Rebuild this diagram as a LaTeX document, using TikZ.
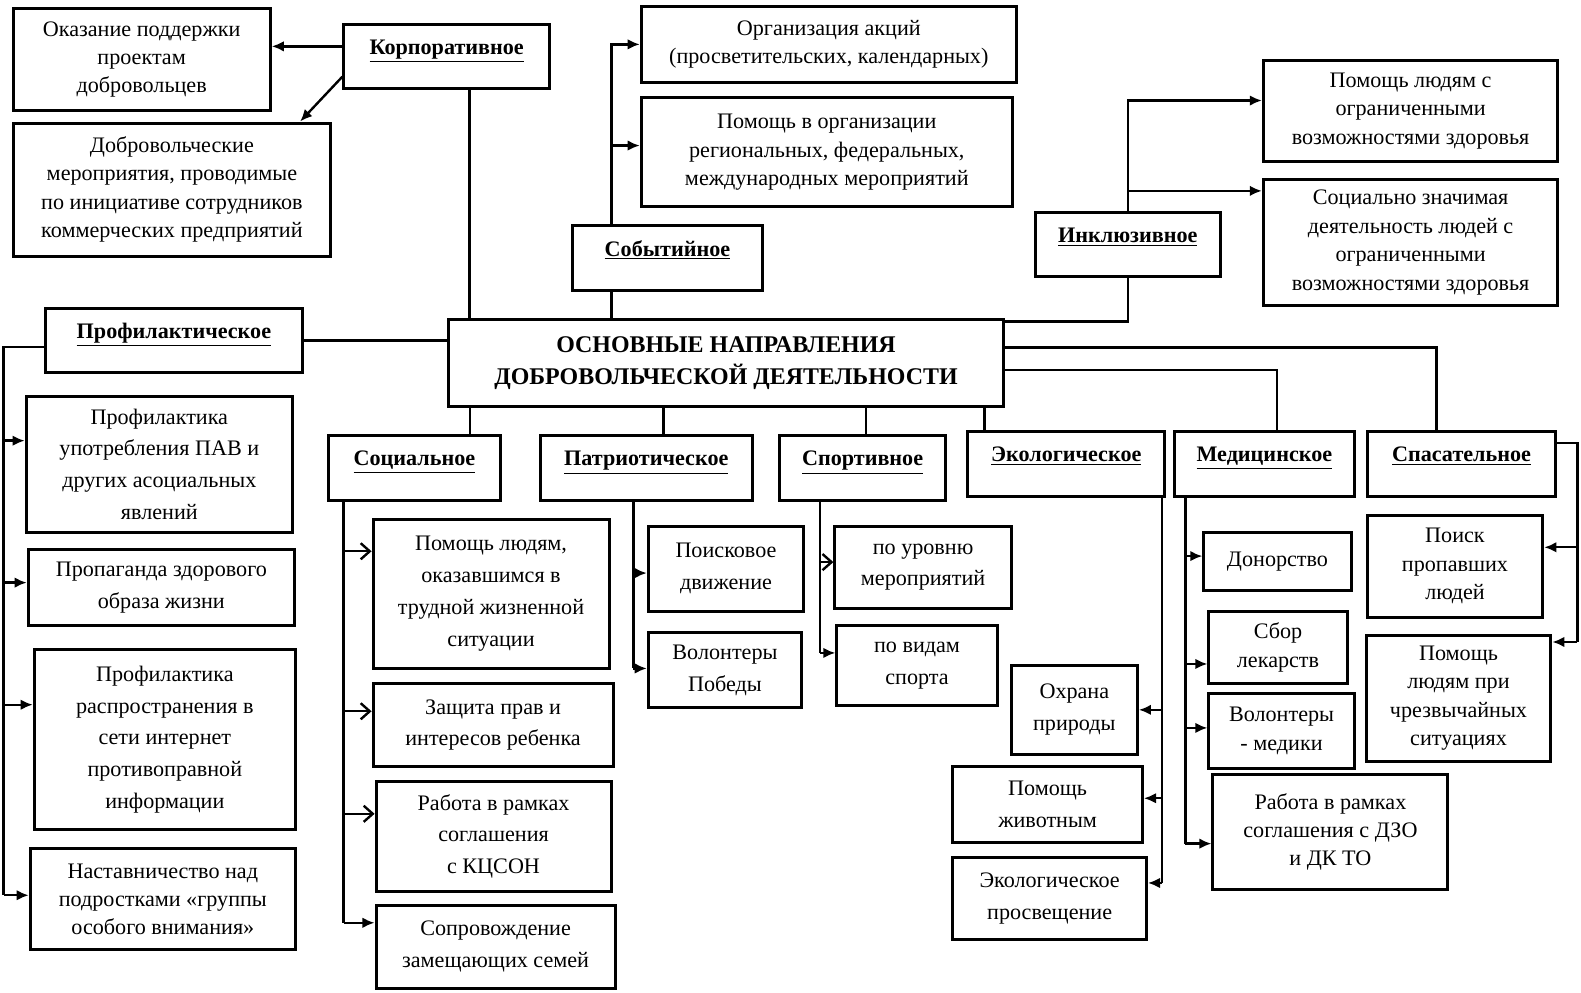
\documentclass[tikz,border=0pt]{standalone}
\usepackage{fontspec}
\setmainfont{Liberation Serif}
\usetikzlibrary{arrows.meta,calc,positioning}
\tikzset{
  box/.style={rectangle,draw=black,line width=1.7pt,align=center,inner sep=1pt,font=\fontsize{12.5}{16}\selectfont},
  boxl/.style={box,font=\fontsize{12.5}{18}\selectfont},
  hd/.style={rectangle,draw=black,line width=1.7pt,inner xsep=2pt,inner ysep=1mm,text height=5mm,text depth=5.8mm,font=\fontsize{12.5}{15}\selectfont\bfseries},
  ttl/.style={rectangle,draw=black,line width=1.9pt,align=center,font=\fontsize{13.5}{18}\selectfont\bfseries},
  ln/.style={draw=black,line width=1.35pt},
  arr/.style={ln,-{Latex[length=2.4mm,width=2.1mm]}},
  arro/.style={ln,-{Straight Barb[length=1.8mm,width=3.2mm]}},
}
\begin{document}
\begin{tikzpicture}[x=0.2mm,y=-0.2mm]
\useasboundingbox (0,0) rectangle (1568,984);

% centre and upper row
\node[ttl,minimum width=110mm,minimum height=17.2mm] (main) at (720,360)
  {ОСНОВНЫЕ НАПРАВЛЕНИЯ\\ДОБРОВОЛЬЧЕСКОЙ ДЕЯТЕЛЬНОСТИ};
\node[hd,minimum width=40.8mm] (korp) at (443,56) {\underline{Корпоративное}};
\node[box,minimum width=51mm,minimum height=20.4mm] (okaz) at (140.5,59)
  {Оказание поддержки\\проектам\\добровольцев};
\node[box,minimum width=63mm,minimum height=26.4mm] (dobr) at (170.5,188)
  {Добровольческие\\мероприятия, проводимые\\по инициативе сотрудников\\коммерческих предприятий};
\node[hd,minimum width=37.6mm] (sobyt) at (662,256) {\underline{Событийное}};
\node[box,minimum width=74.4mm,minimum height=15.2mm] (akc) at (822,44)
  {Организация акций\\(просветительских, календарных)};
\node[box,minimum width=73.6mm,minimum height=21.6mm] (pomorg) at (820,151)
  {Помощь в организации\\региональных, федеральных,\\международных мероприятий};
\node[hd,minimum width=36.6mm] (inkl) at (1118.5,242.5) {\underline{Инклюзивное}};
\node[box,minimum width=58.4mm,minimum height=20mm] (ovz) at (1399,110)
  {Помощь людям с\\ограниченными\\возможностями здоровья};
\node[box,minimum width=58.4mm,minimum height=25mm] (szn) at (1399,240.5)
  {Социально значимая\\деятельность людей с\\ограниченными\\возможностями здоровья};

% left column
\node[hd,minimum width=51mm] (prof) at (172.5,337.5) {\underline{Профилактическое}};
\node[boxl,minimum width=52.8mm,minimum height=27mm] (pav) at (158,460.5)
  {Профилактика\\употребления ПАВ и\\других асоциальных\\явлений};
\node[boxl,minimum width=52.8mm,minimum height=15mm] (prop) at (160,582.5)
  {Пропаганда здорового\\образа жизни};
\node[boxl,minimum width=51.8mm,minimum height=35.8mm] (inet) at (163.5,733.5)
  {Профилактика\\распространения в\\сети интернет\\противоправной\\информации};
\node[box,minimum width=52.6mm,minimum height=20mm] (nast) at (161.5,892)
  {Наставничество над\\подростками «группы\\особого внимания»};

% lower row of headings
\node[hd,minimum width=34mm] (soc) at (411,464) {\underline{Социальное}};
\node[hd,minimum width=42mm] (patr) at (641,464) {\underline{Патриотическое}};
\node[hd,minimum width=33mm] (sport) at (855.5,464) {\underline{Спортивное}};
\node[hd,minimum width=39mm] (ekol) at (1057.5,460) {\underline{Экологическое}};
\node[hd,minimum width=35.6mm] (med) at (1254,460) {\underline{Медицинское}};
\node[hd,minimum width=37.4mm] (spas) at (1449.5,460) {\underline{Спасательное}};

% their boxes
\node[boxl,minimum width=46.8mm,minimum height=29.6mm] (trud) at (487,589)
  {Помощь людям,\\оказавшимся в\\трудной жизненной\\ситуации};
\node[boxl,minimum width=47.6mm,minimum height=16.4mm] (zash) at (489,719)
  {Защита прав и\\интересов ребенка};
\node[boxl,minimum width=46.6mm,minimum height=21.8mm] (kcson) at (489.5,829.5)
  {Работа в рамках\\соглашения\\с КЦСОН};
\node[boxl,minimum width=47.4mm,minimum height=16.4mm] (sopr) at (491.5,939)
  {Сопровождение\\замещающих семей};
\node[boxl,minimum width=30.8mm,minimum height=16.8mm] (poisk) at (720,564)
  {Поисковое\\движение};
\node[boxl,minimum width=30.4mm,minimum height=15mm] (volpob) at (719,664.5)
  {Волонтеры\\Победы};
\node[boxl,minimum width=35mm,minimum height=16.2mm] (urov) at (915.5,562.5)
  {по уровню\\мероприятий};
\node[boxl,minimum width=31.8mm,minimum height=16mm] (vidam) at (909.5,660)
  {по видам\\спорта};
\node[boxl,minimum width=25mm,minimum height=17.6mm] (ohr) at (1065.5,704)
  {Охрана\\природы};
\node[boxl,minimum width=37.6mm,minimum height=15.2mm] (zhiv) at (1039,798)
  {Помощь\\животным};
\node[boxl,minimum width=38.4mm,minimum height=16.4mm] (eprosv) at (1041,891)
  {Экологическое\\просвещение};
\node[box,minimum width=29.2mm,minimum height=11.6mm] (donor) at (1267,557) {Донорство};
\node[box,minimum width=27.4mm,minimum height=14.4mm] (sbor) at (1267.5,642)
  {Сбор\\лекарств};
\node[box,minimum width=28.8mm,minimum height=14.8mm] (volmed) at (1271,725)
  {Волонтеры\\- медики};
\node[box,minimum width=46.6mm,minimum height=22.8mm] (dzo) at (1319.5,825)
  {Работа в рамках\\соглашения с ДЗО\\и ДК ТО};
\node[box,minimum width=34.8mm,minimum height=20.2mm] (poiskpr) at (1443,561.5)
  {Поиск\\пропавших\\людей};
\node[box,minimum width=36.6mm,minimum height=25mm] (chs) at (1446.5,692.5)
  {Помощь\\людям при\\чрезвычайных\\ситуациях};

% корпоративное
\coordinate (k1) at ($(korp.north west)!.35!(korp.south west)$);
\coordinate (k3) at ($(korp.south west)!.61!(korp.south east)$);
\draw[arr] (k1) -- (k1 -| okaz.east);
\draw[arr] ($(korp.north west)!.8!(korp.south west)$) -- ($(dobr.north west)!.9!(dobr.north east)$);
\draw[ln] (k3) -- (k3 |- main.north);

% событийное
\coordinate (s1) at ($(sobyt.north west)!.21!(sobyt.north east)$);
\coordinate (s2) at ($(pomorg.north west)!.44!(pomorg.south west)$);
\draw[arr] (s1) |- (akc.west);
\draw[arr] (s1 |- s2) -- (s2);
\draw[ln] (s1 |- sobyt.south) -- (s1 |- main.north);

% инклюзивное
\coordinate (i1) at ($(ovz.north west)!.4!(ovz.south west)$);
\coordinate (i2) at ($(szn.north west)!.1!(szn.south west)$);
\draw[arr] (inkl.north) |- (i1);
\draw[arr] (inkl.north |- i2) -- (i2);
\draw[ln] (inkl.south) |- ($(main.north east)!.04!(main.south east)$);

% from the centre to the right
\draw[ln] ($(main.north east)!.33!(main.south east)$) -| ($(spas.north west)!.37!(spas.north east)$);
\draw[ln] ($(main.north east)!.58!(main.south east)$) -| ($(med.north west)!.57!(med.north east)$);

% профилактическое
\coordinate (p0) at ($(prof.north west)!.6!(prof.south west)$);
\coordinate (pl) at ($(p0)+(-40,0)$);
\coordinate (p1) at ($(pav.north west)!.33!(pav.south west)$);
\coordinate (p2) at ($(prop.north west)!.44!(prop.south west)$);
\coordinate (p3) at ($(inet.north west)!.31!(inet.south west)$);
\coordinate (p4) at ($(nast.north west)!.46!(nast.south west)$);
\draw[ln] (prof.east) -- (prof.east -| main.west);
\draw[ln] (p0) -- (pl) -- (pl |- p4);
\draw[arr] (pl |- p1) -- (p1);
\draw[arr] (pl |- p2) -- (p2);
\draw[arr] (pl |- p3) -- (p3);
\draw[arr] (pl |- p4) -- (p4);

% from the centre down
\coordinate (c1) at ($(soc.north west)!.82!(soc.north east)$);
\coordinate (c2) at ($(patr.north west)!.58!(patr.north east)$);
\coordinate (c3) at ($(sport.north west)!.52!(sport.north east)$);
\coordinate (c4) at ($(ekol.north west)!.09!(ekol.north east)$);
\draw[ln] (c1) -- (c1 |- main.south);
\draw[ln] (c2) -- (c2 |- main.south);
\draw[ln] (c3) -- (c3 |- main.south);
\draw[ln] (c4) -- (c4 |- main.south);

% социальное
\coordinate (sc) at ($(soc.south west)!.094!(soc.south east)$);
\coordinate (t1) at ($(trud.north west)!.22!(trud.south west)$);
\coordinate (t2) at ($(zash.north west)!.34!(zash.south west)$);
\coordinate (t3) at ($(kcson.north west)!.30!(kcson.south west)$);
\coordinate (t4) at ($(sopr.north west)!.22!(sopr.south west)$);
\draw[ln] (sc) -- (sc |- t4);
\draw[arro] (sc |- t1) -- (t1);
\draw[arro] (sc |- t2) -- (t2);
\draw[arro] (sc |- t3) -- (t3);
\draw[arr] (sc |- t4) -- (t4);

% патриотическое
\coordinate (pc) at ($(patr.south west)!.44!(patr.south east)$);
\coordinate (r1) at ($(poisk.north west)!.55!(poisk.south west)$);
\coordinate (r2) at ($(volpob.north west)!.48!(volpob.south west)$);
\draw[ln] (pc) -- (pc |- r2);
\draw[arr] (pc |- r1) -- (r1);
\draw[arr] (pc |- r2) -- (r2);

% спортивное
\coordinate (spc) at ($(sport.south west)!.25!(sport.south east)$);
\coordinate (u1) at ($(urov.north west)!.44!(urov.south west)$);
\coordinate (u2) at ($(vidam.north west)!.35!(vidam.south west)$);
\draw[ln] (spc) -- (spc |- u2);
\draw[arro] (spc |- u1) -- (u1);
\draw[arr] (spc |- u2) -- (u2);

% экологическое
\coordinate (ec) at ($(ekol.south west)!.98!(ekol.south east)$);
\coordinate (e2) at ($(zhiv.north east)!.42!(zhiv.south east)$);
\coordinate (e3) at ($(eprosv.north east)!.32!(eprosv.south east)$);
\draw[ln] (ec) -- (ec |- e3);
\draw[arr] (ec |- ohr.east) -- (ohr.east);
\draw[arr] (ec |- e2) -- (e2);
\draw[arr] (ec |- e3) -- (e3);

% медицинское
\coordinate (mc) at ($(med.south west)!.067!(med.south east)$);
\coordinate (d1) at ($(donor.north west)!.41!(donor.south west)$);
\coordinate (d2) at ($(sbor.north west)!.72!(sbor.south west)$);
\coordinate (d3) at ($(volmed.north west)!.46!(volmed.south west)$);
\coordinate (d4) at ($(dzo.north west)!.6!(dzo.south west)$);
\draw[ln] (mc) -- (mc |- d4);
\draw[arr] (mc |- d1) -- (d1);
\draw[arr] (mc |- d2) -- (d2);
\draw[arr] (mc |- d3) -- (d3);
\draw[arr] (mc |- d4) -- (d4);

% спасательное
\coordinate (a0) at ($(spas.north east)!.19!(spas.south east)$);
\coordinate (ar) at ($(a0)+(20,0)$);
\coordinate (a1) at ($(poiskpr.north east)!.32!(poiskpr.south east)$);
\coordinate (a2) at ($(chs.north east)!.064!(chs.south east)$);
\draw[ln] (a0) -- (ar) -- (ar |- a2);
\draw[arr] (ar |- a1) -- (a1);
\draw[arr] (ar |- a2) -- (a2);
\end{tikzpicture}
\end{document}
